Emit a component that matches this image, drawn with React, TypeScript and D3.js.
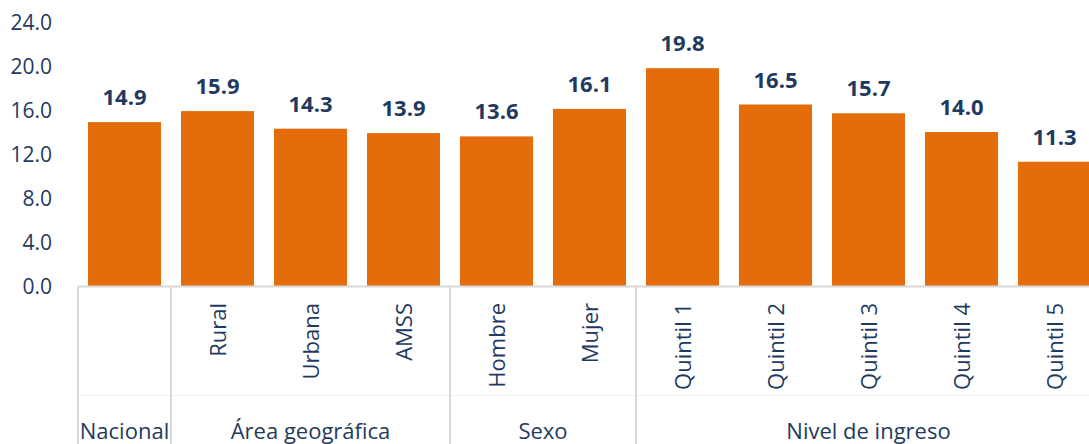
import React from "react";
import * as d3 from "d3";

const categories = ["Nacional", "Rural", "Urbana", "AMSS", "Hombre", "Mujer", "Quintil 1", "Quintil 2", "Quintil 3", "Quintil 4", "Quintil 5"];
const values = [14.9, 15.9, 14.3, 13.9, 13.6, 16.1, 19.8, 16.5, 15.7, 14.0, 11.3];
const groups = [
  { name: "Nacional", count: 1, showInner: false },
  { name: "Área geográfica", count: 3, showInner: true },
  { name: "Sexo", count: 2, showInner: true },
  { name: "Nivel de ingreso", count: 5, showInner: true },
];
const yTicks = [0, 4, 8, 12, 16, 20, 24];

const W = 1089, H = 444;
const FONT = "'Open Sans', 'Noto Sans', sans-serif";
const NAVY = "#1F3A60";
const ORANGE = "#E46C0A";
const GRID = "#D9D9D9";

export default function App() {
  const x0 = 78, step = 93;
  const x = d3.scaleBand<string>().domain(categories).range([x0, x0 + step * categories.length]).paddingInner(0.215).paddingOuter(0.1075);
  const y = d3.scaleLinear().domain([0, 24]).range([286, 22]);
  const axisY = y(0);

  let idx = 0;
  const groupSpans = groups.map((g) => {
    const start = x0 + idx * step;
    const end = x0 + (idx + g.count) * step;
    const items = categories.slice(idx, idx + g.count);
    idx += g.count;
    return { ...g, start, end, items };
  });

  return (
    <svg width={W} height={H} style={{ position: "absolute", left: 0, top: 0, background: "#fff" }} fontFamily={FONT}>
      {yTicks.map((t) => (
        <text key={t} x={52} y={y(t)} dy="0.36em" textAnchor="end" fontSize={21} fill={NAVY}>
          {t.toFixed(1)}
        </text>
      ))}
      {categories.map((c, i) => (
        <g key={c}>
          <rect x={x(c)} y={y(values[i])} width={x.bandwidth()} height={axisY - y(values[i])} fill={ORANGE} />
          <text x={(x(c) as number) + x.bandwidth() / 2} y={y(values[i]) - 17} textAnchor="middle" fontSize={22} fontWeight="bold" fill={NAVY}>
            {values[i].toFixed(1)}
          </text>
        </g>
      ))}
      <line x1={x0} x2={W} y1={axisY + 0.5} y2={axisY + 0.5} stroke={GRID} strokeWidth={2} />
      <line x1={x0} x2={W} y1={395.5} y2={395.5} stroke="#F2F2F2" strokeWidth={1} />
      {groupSpans.map((g) => (
        <g key={g.name}>
          <line x1={g.start} x2={g.start} y1={axisY} y2={H} stroke={GRID} strokeWidth={2} />
          {g.showInner && g.items.map((c) => (
            <text key={c} transform={`translate(${(x(c) as number) + x.bandwidth() / 2 + 8},303) rotate(-90)`} textAnchor="end" fontSize={22} fill={NAVY}>
              {c}
            </text>
          ))}
          <text x={(g.start + g.end) / 2} y={439} textAnchor="middle" fontSize={22} fill={NAVY}>
            {g.name}
          </text>
        </g>
      ))}
    </svg>
  );
}
